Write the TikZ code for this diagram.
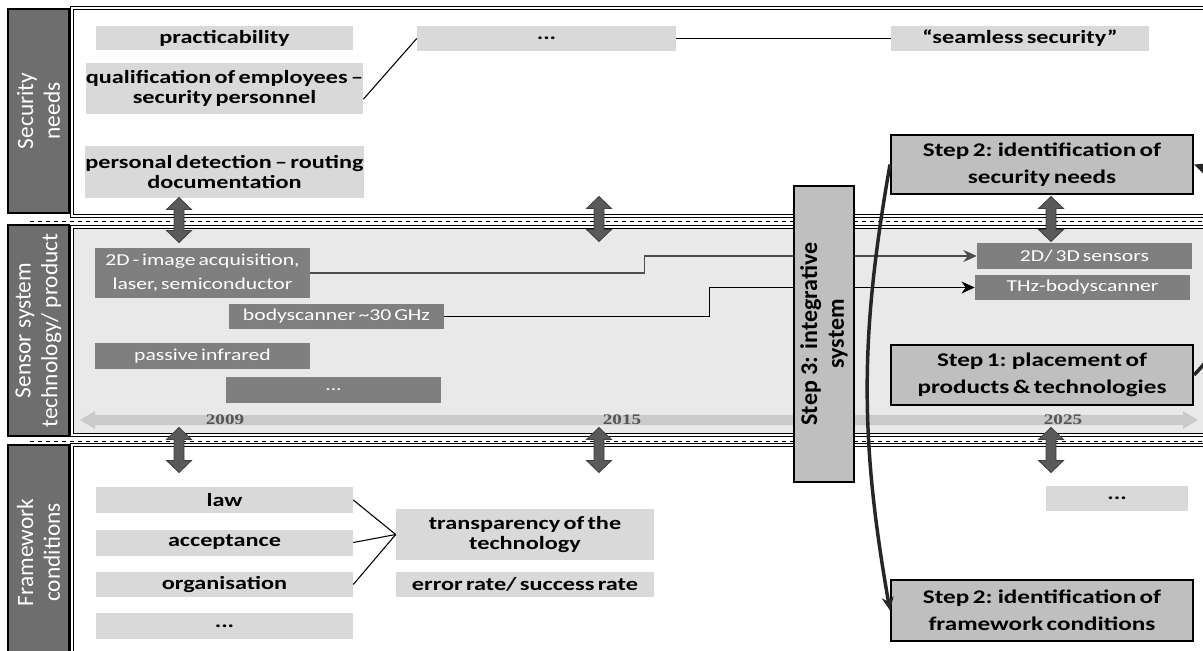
\documentclass[tikz,border=0pt]{standalone}
\usepackage{fontspec}
\setmainfont{Carlito}[FakeStretch=1.3,WordSpace=0.6]
\newfontfamily\sidefont{Carlito}
\newfontfamily\yearfont{Liberation Serif}[FakeStretch=1.3]
\usetikzlibrary{arrows.meta}
\definecolor{sidegrey}{RGB}{110,110,110}
\definecolor{needgrey}{RGB}{217,217,217}
\definecolor{techgrey}{RGB}{127,127,127}
\definecolor{techpanel}{RGB}{233,233,233}
\definecolor{stepgrey}{RGB}{191,191,191}
\definecolor{arrowgrey}{RGB}{90,90,90}
\definecolor{timegrey}{RGB}{202,202,202}
\definecolor{yeargrey}{RGB}{85,85,85}
\newlength{\pxl}\setlength{\pxl}{0.75pt}

\begin{document}
\begin{tikzpicture}[x=0.75pt,y=0.75pt,>={Stealth[length=10pt,width=9pt]},
  sz/.style 2 args={minimum width=#1\pxl,minimum height=#2\pxl},
  panel/.style={draw,double,double distance=1.1pt,line width=1pt},
  side/.style={draw,line width=0.8pt,fill=sidegrey,text=white,rotate=90,align=center,inner sep=0pt,font=\sidefont\fontsize{17.5}{20}\selectfont},
  need/.style={fill=needgrey,align=center,inner sep=0pt,font=\bfseries\fontsize{14}{14.5}\selectfont},
  tech/.style={fill=techgrey,text=white,align=center,inner sep=0pt,font=\fontsize{12.5}{18}\selectfont},
  stepbox/.style={draw,line width=1.5pt,fill=stepgrey,align=center,inner sep=0pt,font=\bfseries\fontsize{14.5}{20}\selectfont},
  year/.style={text=yeargrey,font=\yearfont\bfseries\fontsize{11}{12}\selectfont},
  link/.style={line width=0.8pt},
  loop/.style={->,line width=2.6pt,draw=black!85},
  vdbl/.pic={\filldraw[fill=arrowgrey,draw=black!75,line width=0.6pt] (0,22.5) -- (12.5,10.5) -- (5,10.5) -- (5,-10.5) -- (12.5,-10.5) -- (0,-22.5) -- (-12.5,-10.5) -- (-5,-10.5) -- (-5,10.5) -- (-12.5,10.5) -- cycle;}]

  \useasboundingbox (0,0) rectangle (1203,-650);
  \clip (0,0) rectangle (1203,-650);
  \fill[white] (0,0) rectangle (1203,-650);

  % the three bands
  \draw[panel,fill=white] (72,-8) rectangle (1215,-216);
  \draw[panel,fill=techpanel] (72,-227) rectangle (1215,-435);
  \draw[panel,fill=white] (72,-445) rectangle (1215,-670);
  \draw[dashed,line width=0.5pt] (30,-221) -- (1203,-221);
  \draw[dashed,line width=0.5pt] (30,-441) -- (1203,-441);

  \node[side,sz={204}{61}] (sec) at (38.5,-111) {Security\\needs};
  \node[side,sz={211}{61}] (sen) at (38.5,-330.5) {Sensor system\\technology/ product};
  \node[side,sz={215}{61}] (fw) at (38.5,-552.5) {Framework\\conditions};

  % time axis
  \fill[timegrey] (80,-420) -- (95,-411) -- (95,-415) -- (1183,-415) -- (1183,-411) -- (1198,-420)
    -- (1183,-429) -- (1183,-425) -- (95,-425) -- (95,-429) -- cycle;
  \node[year] (y09) at (225,-420) {2009};
  \node[year] (y15) at (622,-420) {2015};
  \node[year] (y25) at (1063,-420) {2025};

  % security needs
  \node[need,sz={257}{24}] (prac) at (224.5,-38) {practicability};
  \node[need,sz={257}{51}] (qual) at (224.5,-88.5) {qualification of employees --\\security personnel};
  \node[need,sz={257}{52}] (pers) at (224.5,-172) {personal detection -- routing\\documentation};
  \node[need,sz={259}{25}] (dotsec) at (546.5,-38.5) {...};
  \node[need,sz={258}{25}] (seam) at (1020,-38.5) {“seamless security”};
  \draw[link] ([yshift=-8pt]qual.east) -- (dotsec.west);
  \draw[link] (dotsec.east) -- (seam.west);

  % sensor systems
  \node[tech,sz={215}{50}] (img) at (202.5,-273) {2D - image acquisition,\\laser, semiconductor};
  \node[tech,sz={215}{25}] (body) at (336.5,-316.5) {bodyscanner \textasciitilde30 GHz};
  \node[tech,sz={215}{26}] (pir) at (202.5,-356) {passive infrared};
  \node[tech,sz={215}{26}] (dotsen) at (333.5,-390) {...};
  \node[tech,sz={215}{26}] (sens) at (1084.5,-256) {2D/ 3D sensors};
  \node[tech,sz={215}{25}] (thz) at (1082.5,-287.5) {THz-bodyscanner};
  \draw[link,->,draw=black!70] (img.east) -- ++(334,0) |- (sens.west);
  \draw[link,->] (body.east) -- ++(265,0) |- (thz.west);

  % framework conditions
  \node[need,sz={257}{26}] (law) at (224.5,-500) {law};
  \node[need,sz={257}{26}] (acc) at (224.5,-542.5) {acceptance};
  \node[need,sz={257}{25}] (org) at (224.5,-584.5) {organisation};
  \node[need,sz={257}{26}] (dotfw) at (224.5,-626) {...};
  \node[need,sz={258}{51}] (transp) at (525,-534.5) {transparency of the\\technology};
  \node[need,sz={258}{25}] (err) at (525,-584.5) {error rate/ success rate};
  \node[need,sz={142}{25}] (dotfw2) at (1117,-498.5) {...};
  \draw[link] (law.east) -- (transp.west);
  \draw[link] (acc.east) -- (transp.west);
  \draw[link] (org.east) -- (transp.west);

  % steps
  \node[stepbox,line width=1.2pt,rotate=90,sz={296}{60},font=\sidefont\bfseries\fontsize{18}{20}\selectfont] (step3) at (824,-334) {Step 3: integrative\\system};
  \node[stepbox,sz={302}{59}] (step2sec) at (1042,-164.5) {Step 2: identification of\\security needs};
  \node[stepbox,sz={302}{60}] (step1) at (1042,-375) {Step 1: placement of\\products \& technologies};
  \node[stepbox,sz={302}{61}] (step2fw) at (1042,-610.5) {Step 2: identification of\\framework conditions};

  \pic at (179,-220) {vdbl};
  \pic at (599,-219) {vdbl};
  \pic at (1051,-219) {vdbl};
  \pic at (179,-450) {vdbl};
  \pic at (599,-450) {vdbl};
  \pic at (1051,-450) {vdbl};

  \draw[loop] (step2sec.west) to[out=260,in=100] (step2fw.west);
  \draw[loop] (step1.east) to[out=45,in=-20] (step2sec.east);
\end{tikzpicture}
\end{document}
